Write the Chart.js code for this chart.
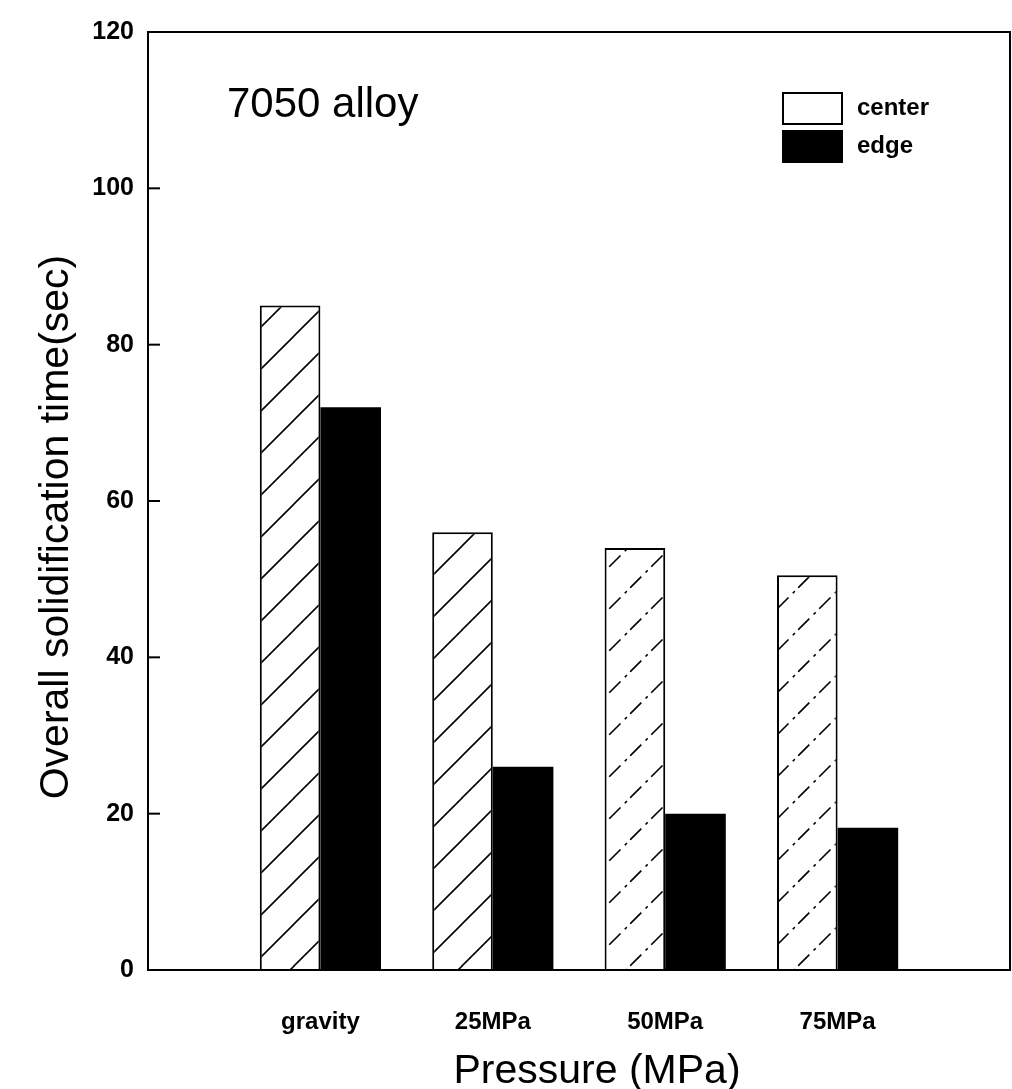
<!DOCTYPE html>
<html>
<head>
<meta charset="utf-8">
<script src="https://cdn.jsdelivr.net/npm/chart.js@4/dist/chart.umd.min.js"></script>
<style>
    html, body { margin: 0; padding: 0; background: #fff; }
    #wrap { width: 1012px; height: 1089px; }
</style>
</head>
<body>
<div id="wrap"><canvas id="solidChart" width="1012" height="1089"></canvas></div>
<script>
// empty slots at both ends so the groups sit where they do in the figure
const categories = ['', 'gravity', '25MPa', '50MPa', '75MPa', ''];
const centerTimes = [null, 85, 56, 54, 50.5, null];
const edgeTimes = [null, 72, 26, 20, 18.2, null];
const seriesNames = ['center', 'edge'];
const yMin = 0, yMax = 120, yStep = 20;

const FONT = "'Liberation Sans', Arial, sans-serif";

function makeHatch(dashed) {
    const size = 42;
    const c = document.createElement('canvas');
    c.width = size; c.height = size;
    const g = c.getContext('2d');
    g.fillStyle = '#fff';
    g.fillRect(0, 0, size, size);
    g.strokeStyle = '#000';
    g.lineWidth = 1.6;
    if (dashed) g.setLineDash([16, 6, 3, 5]);
    [[-size / 2, size / 2], [0, size], [size / 2, size * 1.5]].forEach(([x0, y0]) => {
        g.beginPath();
        g.moveTo(x0, y0);
        g.lineTo(x0 + size, y0 - size);
        g.stroke();
    });
    return g.createPattern(c, 'repeat');
}

const hatchSolid = makeHatch(false);
const hatchDashed = makeHatch(true);

// inward ticks, box frame, legend, annotation and axis titles
const extrasPlugin = {
    id: 'extras',
    afterDraw(chart) {
        const ctx = chart.ctx;
        const area = chart.chartArea;
        const yScale = chart.scales.y;

        ctx.save();
        ctx.strokeStyle = '#000';
        ctx.lineWidth = 2;
        ctx.strokeRect(area.left, area.top, area.right - area.left, area.bottom - area.top);

        yScale.ticks.forEach(t => {
            const py = yScale.getPixelForValue(t.value);
            ctx.beginPath();
            ctx.moveTo(area.left, py);
            ctx.lineTo(area.left + 12, py);
            ctx.stroke();
        });

        // legend
        const ds = chart.data.datasets;
        const boxX = 783, boxW = 59, boxH = 31;
        const rows = [93, 131];
        ctx.font = 'bold 24px ' + FONT;
        ctx.textBaseline = 'middle';
        ctx.textAlign = 'left';
        rows.forEach((top, i) => {
            ctx.fillStyle = i === 0 ? '#fff' : '#000';
            ctx.fillRect(boxX, top, boxW, boxH);
            ctx.strokeRect(boxX, top, boxW, boxH);
            ctx.fillStyle = '#000';
            ctx.fillText(ds[i].label, 857, top + boxH / 2);
        });

        ctx.font = '42px ' + FONT;
        ctx.textBaseline = 'alphabetic';
        ctx.fillText('7050 alloy', 227, 117);

        ctx.font = '41px ' + FONT;
        ctx.textAlign = 'center';
        ctx.textBaseline = 'middle';
        ctx.fillText('Pressure (MPa)', 597, 1072);

        ctx.translate(57, 527);
        ctx.rotate(-Math.PI / 2);
        ctx.fillText('Overall solidification time(sec)', 0, 0);
        ctx.restore();
    }
};

new Chart(document.getElementById('solidChart').getContext('2d'), {
    type: 'bar',
    data: {
        labels: categories,
        datasets: [{
            label: seriesNames[0],
            data: centerTimes,
            backgroundColor: [null, hatchSolid, hatchSolid, hatchDashed, hatchDashed, null],
            borderColor: '#000',
            borderWidth: 2,
            barPercentage: 1,
            categoryPercentage: 0.703
        }, {
            label: seriesNames[1],
            data: edgeTimes,
            backgroundColor: '#000',
            borderColor: '#000',
            borderWidth: 0,
            barPercentage: 1,
            categoryPercentage: 0.703
        }]
    },
    options: {
        responsive: false,
        animation: false,
        events: [],
        layout: { padding: { top: 32, right: 2, left: 0, bottom: 0 } },
        plugins: { legend: { display: false }, tooltip: { enabled: false } },
        scales: {
            x: {
                offset: false,
                grid: { display: false, drawTicks: false, offset: false },
                border: { display: true, color: '#000', width: 2 },
                ticks: {
                    autoSkip: false, maxRotation: 0, padding: 38, color: '#000',
                    font: { family: FONT, size: 24, weight: 'bold' }
                },
                afterFit: s => {
                    s.height = 119;
                    s.paddingLeft = 0;
                    s.paddingRight = 0;
                }
            },
            y: {
                min: yMin, max: yMax,
                grid: { display: false, drawTicks: false },
                border: { display: true, color: '#000', width: 2 },
                ticks: {
                    stepSize: yStep, padding: 14, color: '#000',
                    font: { family: FONT, size: 25, weight: 'bold' }
                },
                afterFit: s => { s.width = 148; }
            }
        }
    },
    plugins: [extrasPlugin]
});
</script>
</body>
</html>
